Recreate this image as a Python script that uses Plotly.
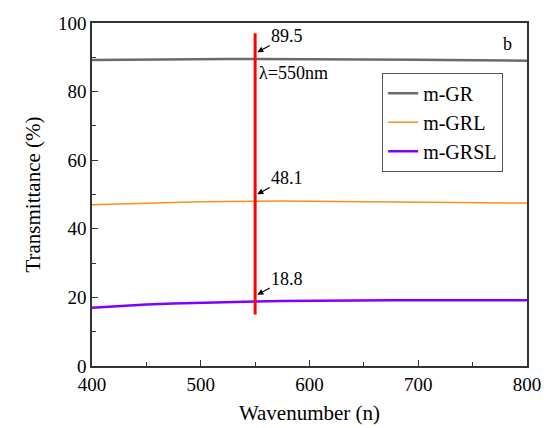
import plotly.graph_objects as go

wavenumber = [400, 425, 450, 475, 500, 525, 550, 575, 600, 625, 650, 675, 700, 725, 750, 775, 800]
m_gr = [89.2, 89.3, 89.35, 89.4, 89.45, 89.5, 89.5, 89.5, 89.5, 89.45, 89.4, 89.35, 89.3, 89.2, 89.15, 89.1, 89.0]
m_grl = [47.0, 47.3, 47.5, 47.7, 47.85, 48.0, 48.1, 48.1, 48.05, 48.0, 47.9, 47.8, 47.75, 47.65, 47.6, 47.5, 47.5]
m_grsl = [17.0, 17.5, 17.9, 18.2, 18.45, 18.65, 18.8, 18.95, 19.05, 19.1, 19.15, 19.2, 19.2, 19.2, 19.2, 19.2, 19.2]
marker_x = [550, 550]
marker_y = [15, 97]
labels = ["89.5", "48.1", "18.8"]
label_vals = [89.5, 48.1, 18.8]

FONT = "Liberation Serif"

fig = go.Figure()
fig.add_trace(go.Scatter(x=wavenumber, y=m_gr, mode="lines", name="m-GR",
                         line=dict(color="#6b6b6b", width=2.5)))
fig.add_trace(go.Scatter(x=wavenumber, y=m_grl, mode="lines", name="m-GRL",
                         line=dict(color="#ff8c1e", width=1.5)))
fig.add_trace(go.Scatter(x=wavenumber, y=m_grsl, mode="lines", name="m-GRSL",
                         line=dict(color="#8000ff", width=2.5)))
fig.add_trace(go.Scatter(x=marker_x, y=marker_y, mode="lines", showlegend=False,
                         line=dict(color="#ff0000", width=3)))

for t, v in zip(labels, label_vals):
    fig.add_annotation(x=552, y=v + 2, text=t, showarrow=True, ax=30, ay=-16,
                       arrowhead=2, arrowsize=1, arrowwidth=1.2, arrowcolor="black",
                       font=dict(family=FONT, size=18, color="black"))

fig.add_annotation(x=552, y=85.5, text="λ=550nm", showarrow=False, xanchor="left",
                   yanchor="middle", font=dict(family=FONT, size=18, color="black"))
fig.add_annotation(x=0.955, y=0.94, xref="paper", yref="paper", text="b", showarrow=False,
                   xanchor="center", yanchor="middle", font=dict(family=FONT, size=18, color="black"))

axis_common = dict(showline=True, linecolor="#333", linewidth=1.5, mirror=True,
                   ticks="inside", ticklen=6, tickwidth=1.2, tickcolor="#333",
                   showgrid=False, zeroline=False, automargin=False,
                   tickfont=dict(family=FONT, size=19, color="black"))

fig.update_layout(
    width=544, height=428,
    margin=dict(l=92, r=17, t=23, b=62),
    paper_bgcolor="white", plot_bgcolor="white",
    font=dict(family=FONT),
    xaxis=dict(range=[400, 800], dtick=100,
               minor=dict(ticks="inside", ticklen=4, dtick=50, tickcolor="#333"),
               title=dict(text="Wavenumber (n)", font=dict(family=FONT, size=21, color="black"), standoff=12),
               **axis_common),
    yaxis=dict(range=[0, 100], dtick=20,
               minor=dict(ticks="inside", ticklen=4, dtick=10, tickcolor="#333"),
               title=dict(text="Transmittance (%)", font=dict(family=FONT, size=21, color="black"), standoff=12),
               **axis_common),
    legend=dict(x=0.667, y=0.855, xanchor="left", yanchor="top",
                bordercolor="#555", borderwidth=1, bgcolor="white",
                font=dict(family=FONT, size=20, color="black"),
                tracegroupgap=0),
    showlegend=True,
)

fig.write_html("out.html")
